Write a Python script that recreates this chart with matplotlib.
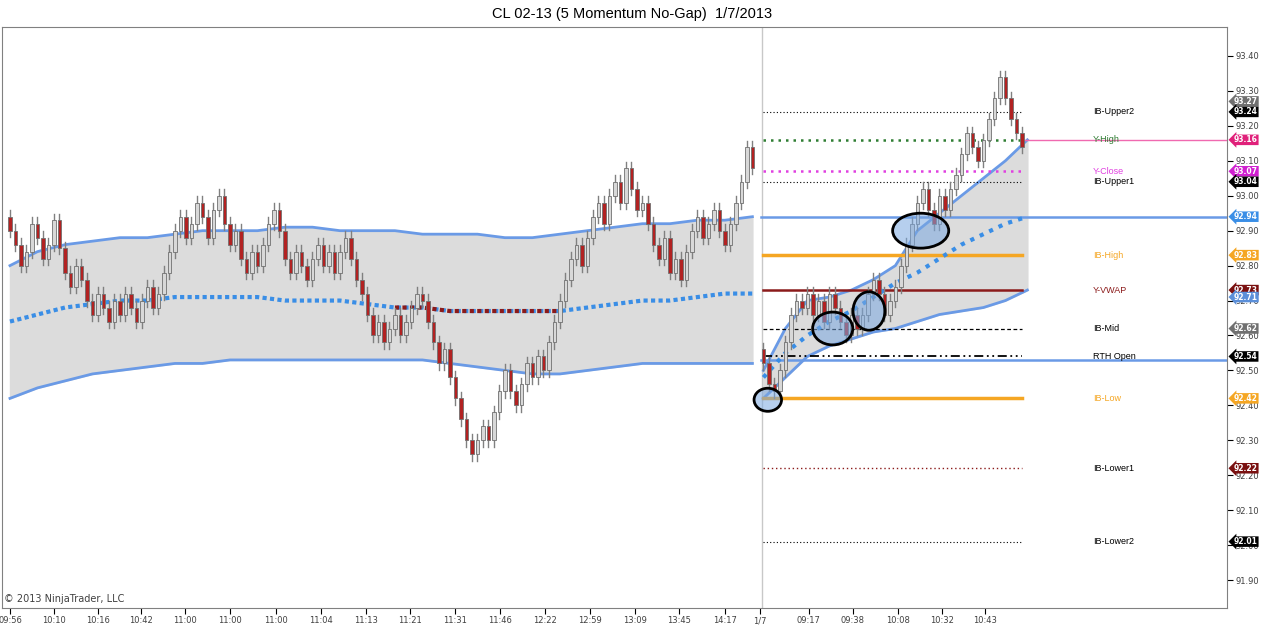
import numpy as np
import matplotlib.pyplot as plt
from matplotlib.patches import Ellipse, Rectangle

# closes, one per 5-min bar (prior session, then 1/7)
prev_closes = [
    92.90, 92.86, 92.80, 92.84, 92.92, 92.88, 92.82, 92.86, 92.93, 92.85,
    92.78, 92.74, 92.80, 92.76, 92.70, 92.66, 92.72, 92.68, 92.64, 92.70,
    92.66, 92.72, 92.68, 92.64, 92.70, 92.74, 92.68, 92.72, 92.78, 92.84,
    92.90, 92.94, 92.88, 92.92, 92.98, 92.94, 92.88, 92.96, 93.00, 92.92,
    92.86, 92.90, 92.82, 92.78, 92.84, 92.80, 92.86, 92.92, 92.96, 92.90,
    92.82, 92.78, 92.84, 92.80, 92.76, 92.82, 92.86, 92.80, 92.84, 92.78,
    92.84, 92.88, 92.82, 92.76, 92.72, 92.66, 92.60, 92.64, 92.58, 92.62,
    92.66, 92.60, 92.64, 92.68, 92.72, 92.70, 92.64, 92.58, 92.52, 92.56,
    92.48, 92.42, 92.36, 92.30, 92.26, 92.30, 92.34, 92.30, 92.38, 92.44,
    92.50, 92.44, 92.40, 92.46, 92.52, 92.48, 92.54, 92.50, 92.58, 92.64,
    92.70, 92.76, 92.82, 92.86, 92.80, 92.88, 92.94, 92.98, 92.92, 93.00,
    93.04, 92.98, 93.08, 93.02, 92.96, 92.98, 92.92, 92.86, 92.82, 92.88,
    92.78, 92.82, 92.76, 92.84, 92.90, 92.94, 92.88, 92.92, 92.96, 92.90,
    92.86, 92.92, 92.98, 93.04, 93.14, 93.08,
]
today_closes = [
    92.52, 92.46, 92.44, 92.50, 92.58, 92.66, 92.70, 92.68, 92.72, 92.66,
    92.70, 92.64, 92.72, 92.68, 92.64, 92.60, 92.66, 92.62, 92.66, 92.72,
    92.76, 92.72, 92.66, 92.70, 92.74, 92.80, 92.86, 92.92, 92.98, 93.02,
    92.96, 92.92, 93.00, 92.96, 93.02, 93.06, 93.12, 93.18, 93.14, 93.10,
    93.16, 93.22, 93.28, 93.34, 93.28, 93.22, 93.18, 93.14,
]
prev_start, today_start = 0, 137
wick = 0.018

# VWAP + bands, sampled every 5 bars (prev) / 4 bars (today)
prev_x = np.arange(0, 136, 5)
prev_upper = [92.80, 92.84, 92.86, 92.87, 92.88, 92.88, 92.89, 92.90, 92.90, 92.90,
              92.91, 92.91, 92.90, 92.90, 92.90, 92.89, 92.89, 92.89, 92.88, 92.88,
              92.89, 92.90, 92.91, 92.92, 92.92, 92.93, 92.93, 92.94]
prev_lower = [92.42, 92.45, 92.47, 92.49, 92.50, 92.51, 92.52, 92.52, 92.53, 92.53,
              92.53, 92.53, 92.53, 92.53, 92.53, 92.53, 92.52, 92.51, 92.50, 92.49,
              92.49, 92.50, 92.51, 92.52, 92.52, 92.52, 92.52, 92.52]
prev_vwap = [92.64, 92.66, 92.68, 92.69, 92.70, 92.70, 92.71, 92.71, 92.71, 92.71,
             92.70, 92.70, 92.70, 92.69, 92.68, 92.68, 92.67, 92.67, 92.67, 92.67,
             92.67, 92.68, 92.69, 92.70, 92.70, 92.71, 92.72, 92.72]
today_x = np.arange(137, 186, 4)
today_upper = [92.50, 92.62, 92.70, 92.71, 92.73, 92.76, 92.80, 92.90, 92.95, 93.00, 93.05, 93.10, 93.16]
today_lower = [92.42, 92.48, 92.54, 92.57, 92.59, 92.61, 92.62, 92.64, 92.66, 92.67, 92.68, 92.70, 92.73]
today_vwap = [92.48, 92.55, 92.60, 92.64, 92.67, 92.71, 92.75, 92.78, 92.82, 92.86, 92.89, 92.92, 92.94]

# key levels: name, price, colour, linestyle, width, label colour
levels = [
    ("IB-Upper2", 93.24, "black", (0, (1, 2)), 0.8, "black"),
    ("Y-High", 93.16, "#2e7d32", (0, (1, 2)), 1.8, "#2e7d32"),
    ("Y-Close", 93.07, "#e040e0", (0, (1, 2)), 1.8, "#e040e0"),
    ("IB-Upper1", 93.04, "black", (0, (1, 2)), 0.8, "black"),
    ("IB-High", 92.83, "#f5a623", "-", 2.5, "#f5a623"),
    ("Y-VWAP", 92.73, "#8b1a1a", "-", 1.8, "#8b1a1a"),
    ("IB-Mid", 92.62, "black", (0, (3, 2)), 0.9, "black"),
    ("RTH Open", 92.54, "black", (0, (5, 2, 1, 2, 1, 2)), 1.3, "black"),
    ("IB-Low", 92.42, "#f5a623", "-", 2.5, "#f5a623"),
    ("IB-Lower1", 92.22, "#8b1a1a", (0, (1, 2)), 1.0, "black"),
    ("IB-Lower2", 92.01, "black", (0, (1, 2)), 0.8, "black"),
]
tags = [(93.27, "#707070"), (93.24, "black"), (93.16, "#e0207a"), (93.07, "#d020d0"),
        (93.04, "black"), (92.94, "#3a8ee6"), (92.83, "#f5a623"), (92.73, "#7a1010"),
        (92.71, "#5b8fd9"), (92.62, "#707070"), (92.54, "black"), (92.42, "#f5a623"),
        (92.22, "#7a1010"), (92.01, "black")]

fig = plt.figure(figsize=(12.65, 6.42), dpi=100)
ax = fig.add_axes([2 / 1265, 34 / 642, 1225 / 1265, 581 / 642])
blue = "#6a9ae6"

# bands
ax.fill_between(prev_x, prev_lower, prev_upper, color="#dcdcdc", zorder=0)
ax.fill_between(today_x, today_lower, today_upper, color="#dcdcdc", zorder=0)
for xs, up, lo in [(prev_x, prev_upper, prev_lower), (today_x, today_upper, today_lower)]:
    ax.plot(xs, up, color=blue, lw=2, zorder=2)
    ax.plot(xs, lo, color=blue, lw=2, zorder=2)
ax.plot(prev_x, prev_vwap, color="#3a8ee6", lw=3, ls=(0, (1, 0.8)), zorder=3)
red_part = (prev_x >= 70) & (prev_x <= 100)
ax.plot(prev_x[red_part], np.array(prev_vwap)[red_part], color="#8b1a1a", lw=3, ls=(0, (1, 0.8)), zorder=3)
ax.plot(today_x, today_vwap, color="#3a8ee6", lw=3, ls=(0, (1, 1.5)), zorder=3)

# blue reference lines from the session break to the axis
ax.plot([136.5, 230], [92.53, 92.53], color=blue, lw=1.8, zorder=2)
ax.plot([136.5, 230], [92.94, 92.94], color=blue, lw=1.8, zorder=2)
ax.plot([184.5, 230], [93.16, 93.16], color="#f06ab0", lw=1, zorder=2)
ax.axvline(136.7, color="#c8c8c8", lw=1, zorder=1)

# levels
for name, price, col, ls, lw, lcol in levels:
    ax.plot([137, 184], [price, price], color=col, ls=ls, lw=lw, zorder=2)
    ax.text(196.9, price, name, color=lcol, fontsize=6.5, va="center", family="Liberation Sans")

# candles
def draw_bars(start, closes, first_open):
    prev = first_open
    for k, c in enumerate(closes):
        x = start + k
        o = prev
        up = c >= o
        ax.plot([x, x], [min(o, c) - wick, max(o, c) + wick], color="#808080", lw=1, zorder=4)
        face = "#d8d8d8" if up else "#b22222"
        ax.add_patch(Rectangle((x - 0.3, min(o, c)), 0.6, max(abs(c - o), 0.004),
                               facecolor=face, edgecolor="#707070", lw=0.6, zorder=5))
        prev = c

draw_bars(prev_start, prev_closes, 92.94)
draw_bars(today_start, today_closes, 92.56)

# highlight ellipses
for cx, cy, w, h in [(137.8, 92.416, 5.0, 0.066), (149.6, 92.62, 7.3, 0.094),
                     (156.2, 92.67, 5.8, 0.11), (165.6, 92.90, 10.2, 0.10)]:
    ax.add_patch(Ellipse((cx, cy), w, h, facecolor="#7aa8e0", alpha=0.55, edgecolor="none", zorder=6))
    ax.add_patch(Ellipse((cx, cy), w, h, facecolor="none", edgecolor="black", lw=2, zorder=7))

ax.set_xlim(-1.45, 221.3)
ax.set_ylim(91.82, 93.483)
ax.yaxis.tick_right()
ax.set_yticks(np.arange(91.90, 93.41, 0.10))
ax.set_yticklabels([f"{v:.2f}" for v in np.arange(91.90, 93.41, 0.10)], fontsize=6, color="#404040")
ax.tick_params(axis="y", length=4, pad=2)

tick_px = [10, 54, 98, 141, 185, 230, 276, 321, 366, 410, 455, 500, 545, 590, 635, 679, 725, 760, 809, 853, 898, 942, 985]
tick_lab = ["09:56", "10:10", "10:16", "10:42", "11:00", "11:00", "11:00", "11:04", "11:13", "11:21", "11:31",
            "11:46", "12:22", "12:59", "13:09", "13:45", "14:17", "1/7", "09:17", "09:38", "10:08", "10:32", "10:43"]
ax.set_xticks([(p - 10) / 5.5 for p in tick_px])
ax.set_xticklabels(tick_lab, fontsize=6, color="#404040")
ax.tick_params(axis="x", length=4, pad=2)

for price, col in tags:
    ax.annotate(f"{price:.2f}", xy=(1.0, price), xycoords=("axes fraction", "data"),
                xytext=(5, 0), textcoords="offset points", fontsize=5.5, color="white",
                va="center", ha="left", fontweight="bold",
                bbox=dict(boxstyle="larrow,pad=0.1", fc=col, ec="none"), zorder=10,
                annotation_clip=False)

for s in ax.spines.values():
    s.set_color("#808080")
ax.text(0.002, 0.01, "\u00a9 2013 NinjaTrader, LLC", transform=ax.transAxes, fontsize=7, color="#404040")
fig.text(0.5, 0.978, "CL 02-13 (5 Momentum No-Gap)  1/7/2013", ha="center", va="center",
         fontsize=10.5, family="Liberation Sans")
fig.savefig("out.png", dpi=100)
